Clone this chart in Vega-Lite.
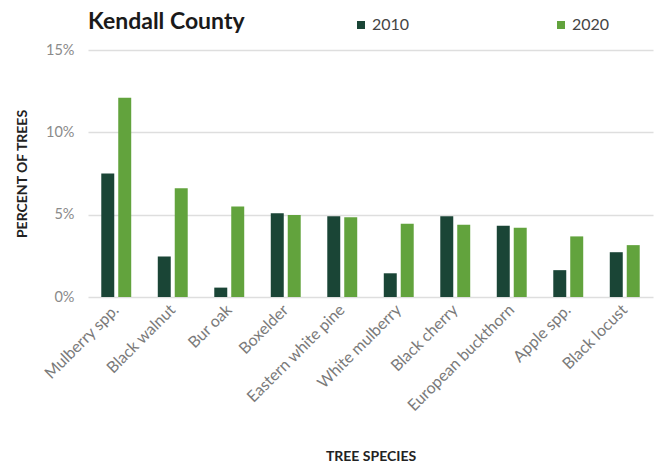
{
  "$schema": "https://vega.github.io/schema/vega-lite/v6.json",
  "width": 565,
  "height": 247,
  "autosize": {"type": "none"},
  "padding": {"left": 88, "top": 50, "right": 7, "bottom": 169},
  "background": "white",
  "title": {
    "text": "Kendall County",
    "anchor": "start",
    "frame": "group",
    "font": "Lato",
    "fontSize": 23,
    "fontWeight": "bold",
    "color": "#1a1a1a",
    "offset": 0,
    "dy": 17
  },
  "data": {
    "values": [
      {"species": "Mulberry spp.", "year": "2010", "pct": 7.5},
      {"species": "Mulberry spp.", "year": "2020", "pct": 12.1},
      {"species": "Black walnut", "year": "2010", "pct": 2.46},
      {"species": "Black walnut", "year": "2020", "pct": 6.6},
      {"species": "Bur oak", "year": "2010", "pct": 0.57},
      {"species": "Bur oak", "year": "2020", "pct": 5.5},
      {"species": "Boxelder", "year": "2010", "pct": 5.08},
      {"species": "Boxelder", "year": "2020", "pct": 4.98},
      {"species": "Eastern white pine", "year": "2010", "pct": 4.9},
      {"species": "Eastern white pine", "year": "2020", "pct": 4.84},
      {"species": "White mulberry", "year": "2010", "pct": 1.44},
      {"species": "White mulberry", "year": "2020", "pct": 4.45},
      {"species": "Black cherry", "year": "2010", "pct": 4.9},
      {"species": "Black cherry", "year": "2020", "pct": 4.39},
      {"species": "European buckthorn", "year": "2010", "pct": 4.33},
      {"species": "European buckthorn", "year": "2020", "pct": 4.2},
      {"species": "Apple spp.", "year": "2010", "pct": 1.63},
      {"species": "Apple spp.", "year": "2020", "pct": 3.68},
      {"species": "Black locust", "year": "2010", "pct": 2.72},
      {"species": "Black locust", "year": "2020", "pct": 3.15}
    ]
  },
  "mark": {"type": "bar"},
  "encoding": {
    "x": {
      "field": "species",
      "type": "nominal",
      "sort": null,
      "scale": {"paddingInner": 0.47, "paddingOuter": 0.235},
      "axis": {
        "title": "TREE SPECIES",
        "titleFont": "Lato",
        "titleFontSize": 14,
        "titleFontWeight": "bold",
        "titleColor": "#222222",
        "titleY": 152,
        "labelAngle": -45,
        "labelAlign": "right",
        "labelBaseline": "middle",
        "labelFont": "Lato",
        "labelFontSize": 16,
        "labelColor": "#7a7a7a",
        "labelPadding": 10,
        "labelLimit": 300,
        "ticks": false,
        "domain": false
      }
    },
    "xOffset": {
      "field": "year",
      "type": "nominal",
      "scale": {"paddingInner": 0.235}
    },
    "y": {
      "field": "pct",
      "type": "quantitative",
      "scale": {"domain": [0, 15]},
      "axis": {
        "title": "PERCENT OF TREES",
        "titleFont": "Lato",
        "titleFontSize": 14,
        "titleFontWeight": "bold",
        "titleColor": "#222222",
        "titleX": -59,
        "values": [0, 5, 10, 15],
        "labelExpr": "datum.value + '%'",
        "labelFont": "Lato",
        "labelFontSize": 14.5,
        "labelColor": "#8a8a8a",
        "labelPadding": 14,
        "ticks": false,
        "domain": false,
        "grid": true,
        "gridColor": "#dedede",
        "gridWidth": 1.5
      }
    },
    "color": {
      "field": "year",
      "type": "nominal",
      "scale": {"domain": ["2010", "2020"], "range": ["#1a4536", "#62a33d"]},
      "legend": {
        "title": null,
        "orient": "none",
        "direction": "horizontal",
        "legendX": 265,
        "legendY": -33,
        "symbolType": "square",
        "symbolSize": 64,
        "symbolStrokeWidth": 0,
        "labelFont": "Lato",
        "labelFontSize": 16,
        "labelColor": "#444444",
        "labelOffset": 3,
        "columnPadding": 143
      }
    }
  },
  "config": {"view": {"stroke": null}}
}
